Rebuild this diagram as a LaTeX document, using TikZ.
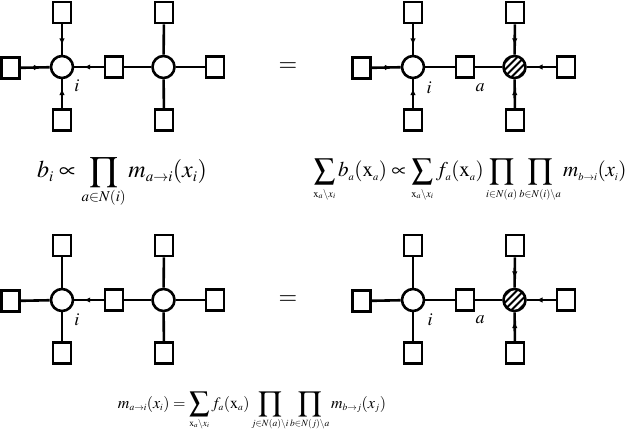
\documentclass[tikz,border=0pt]{standalone}
\usepackage{mathptmx}
\DeclareMathSizes{24}{24}{15}{10}
\DeclareMathSizes{21}{21}{10.5}{8}
\DeclareMathSizes{16}{16}{9.5}{7}
\usetikzlibrary{arrows.meta,decorations.markings}
\newcommand\BigProd{\mathop{\vcenter{\hbox{\scalebox{1.25}{$\displaystyle\prod$}}}}\limits}
\newcommand\BigSum{\mathop{\vcenter{\hbox{\scalebox{1.25}{$\displaystyle\sum$}}}}\limits}
\newcommand\fgraph[4]{%
\begin{scope}[shift={(#2,#3)}]
  \node[var] (#1i) at (62,67) {};
  \node[fac] (#1l) at (10.5,68) {};
  \node[fac] (#1t) at (62,12.5) {};
  \node[fac] (#1b) at (62,120) {};
  \node[fac] (#1a) at (114,67) {};
  \node[#4] (#1j) at (163.5,67) {};
  \node[fac] (#1jt) at (164,12.5) {};
  \node[fac] (#1jb) at (164,120) {};
  \node[fac] (#1jr) at (215,67) {};
\end{scope}}
\begin{document}
\begin{tikzpicture}[x=1pt,y=-1pt,
  fac/.style={draw,line width=2.6pt,minimum width=18pt,minimum height=21pt,inner sep=0pt},
  var/.style={draw,circle,line width=2.6pt,minimum size=22pt,inner sep=0pt,fill=white},
  hvar/.style={var,path picture={
      \foreach \k in {-28,-21,...,28}{
        \draw[line width=1.9pt] ([xshift={(\k-16)*1pt},yshift=-16pt]path picture bounding box.center) -- ++(32pt,32pt);}}},
  edge/.style={line width=2.6pt},
  msg/.style={edge,postaction={decorate},decoration={markings,
      mark=at position 0.68 with {\arrow{Latex[length=6.5pt,width=5.5pt]}}}},
  lab/.style={font=\fontsize{18}{20}\selectfont,inner sep=0pt},
  eqs/.style={font=\fontsize{24}{26}\selectfont,inner sep=0pt},
  form/.style={inner sep=0pt,anchor=base},
]
\useasboundingbox (0,0) rectangle (640,430);

% ---- top left
\fgraph{tl}{0}{0}{var}
\draw[msg] (tlt) -- (tli);
\draw[msg] (tll) -- (tli);
\draw[msg] (tla) -- (tli);
\draw[msg] (tlb) -- (tli);
\draw[edge] (tla) -- (tlj);
\draw[edge] (tljt) -- (tlj);
\draw[edge] (tljb) -- (tlj);
\draw[edge] (tljr) -- (tlj);
\node[lab] (tlli) at (77,86) {$i$};

% ---- top right
\fgraph{tr}{351}{0}{hvar}
\draw[msg] (trt) -- (tri);
\draw[msg] (trl) -- (tri);
\draw[msg] (trb) -- (tri);
\draw[edge] (tra) -- (tri);
\draw[edge] (tra) -- (trj);
\draw[msg] (trjt) -- (trj);
\draw[msg] (trjb) -- (trj);
\draw[msg] (trjr) -- (trj);
\node[lab] (trli) at (429,88) {$i$};
\node[lab] (trla) at (480,88) {$a$};

% ---- bottom left
\fgraph{bl}{0}{233}{var}
\draw[edge] (blt) -- (bli);
\draw[edge] (bll) -- (bli);
\draw[msg] (bla) -- (bli);
\draw[edge] (blb) -- (bli);
\draw[edge] (bla) -- (blj);
\draw[edge] (bljt) -- (blj);
\draw[edge] (bljb) -- (blj);
\draw[edge] (bljr) -- (blj);
\node[lab] (blli) at (77,320) {$i$};

% ---- bottom right
\fgraph{br}{351}{233}{hvar}
\draw[edge] (brt) -- (bri);
\draw[edge] (brl) -- (bri);
\draw[edge] (brb) -- (bri);
\draw[edge] (bra) -- (bri);
\draw[edge] (bra) -- (brj);
\draw[msg] (brjt) -- (brj);
\draw[msg] (brjb) -- (brj);
\draw[msg] (brjr) -- (brj);
\node[lab] (brli) at (430,320) {$i$};
\node[lab] (brla) at (480,320) {$a$};

% ---- equals signs
\node[eqs] (eq1) at (288,67) {$=$};
\node[eqs] (eq2) at (288,300) {$=$};

% ---- formulas
\node[form,font=\fontsize{24}{26}\selectfont] (f1) at (122,178) {$\displaystyle b_i \propto \prod_{a\in N(i)} m_{a\to i}(x_i)$};
\node[form,font=\fontsize{21}{24}\selectfont] (f2) at (470,177) {$\displaystyle \sum_{\mathrm{x}_a\setminus x_i} b_a(\mathrm{x}_a) \propto \sum_{\mathrm{x}_a\setminus x_i} f_a(\mathrm{x}_a) \prod_{i\in N(a)} \prod_{b\in N(i)\setminus a} m_{b\to i}(x_i)$};
\node[form,font=\fontsize{16}{18}\selectfont] (f3) at (252,408) {$\displaystyle m_{a\to i}(x_i) = \BigSum_{\mathrm{x}_a\setminus x_i} f_a(\mathrm{x}_a) \BigProd_{j\in N(a)\setminus i} \BigProd_{b\in N(j)\setminus a} m_{b\to j}(x_j)$};
\end{tikzpicture}
\end{document}
